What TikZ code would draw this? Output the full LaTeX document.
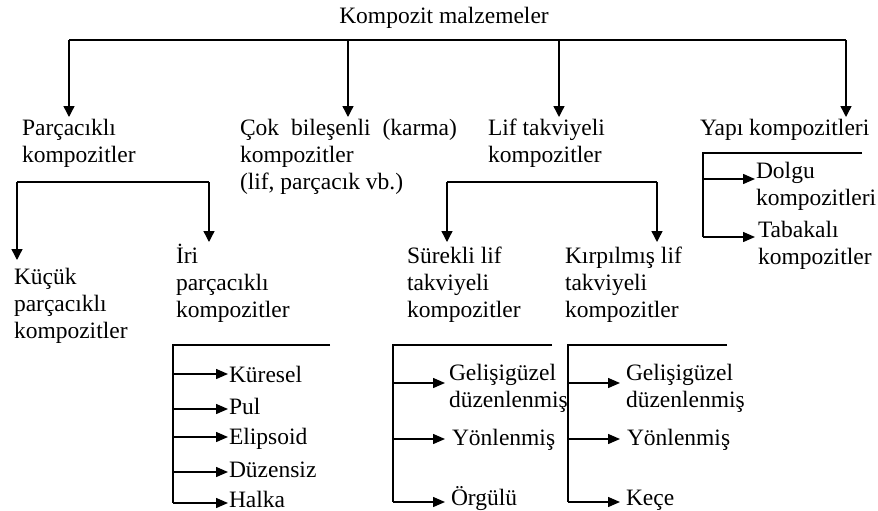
\documentclass[tikz,border=0pt]{standalone}
\usepackage{fontspec}
\setmainfont{Liberation Serif}
\usetikzlibrary{arrows.meta}
\tikzset{
  lbl/.style={inner sep=0pt, outer sep=0pt, anchor=base west, align=left, font=\fontsize{23.5}{27}\selectfont},
  conn/.style={line width=1.4pt, line join=miter},
  arr/.style={line width=1.4pt, -{Triangle[length=11pt,width=11pt]}},
  sarr/.style={line width=1.4pt, -{Triangle[length=12pt,width=10pt]}}
}
\begin{document}
\begin{tikzpicture}[x=1pt,y=-1pt]
\useasboundingbox (0,0) rectangle (878,511);
% root
\node[lbl, anchor=base] (root) at (444,24) {Kompozit malzemeler};
\coordinate (busL) at (69,40);
\coordinate (bus2) at (348,40);
\coordinate (bus3) at (559,40);
\coordinate (busR) at (846,40);
\coordinate (t1) at (69,117);
\coordinate (t2) at (348,117);
\coordinate (t3) at (559,117);
\coordinate (t4) at (846,117);
\draw[conn] (busL) -- (busR);
\draw[arr] (busL) -- (t1);
\draw[arr] (bus2) -- (t2);
\draw[arr] (bus3) -- (t3);
\draw[arr] (busR) -- (t4);
% level 2 (base anchor = baseline of the last line)
\node[lbl] (parc) at (22,162) {Parçacıklı\\kompozitler};
\node[lbl] (cok) at (240,189) {Çok\hspace{6pt} bileşenli\hspace{6pt} (karma)\\kompozitler\\(lif, parçacık vb.)};
\node[lbl] (lif) at (488,162) {Lif takviyeli\\kompozitler};
\node[lbl] (yapi) at (700,135) {Yapı kompozitleri};
% particle branch
\coordinate (pL) at (17,182);
\coordinate (pR) at (209,182);
\coordinate (pLt) at (17,260);
\coordinate (pRt) at (209,242);
\draw[conn] (pL) -- (pR);
\draw[arr] (pL) -- (pLt);
\draw[arr] (pR) -- (pRt);
\node[lbl] (kucuk) at (14,338) {Küçük\\parçacıklı\\kompozitler};
\node[lbl] (iri) at (176,317) {İri\\parçacıklı\\kompozitler};
% fibre branch
\coordinate (fL) at (447,182);
\coordinate (fR) at (657,182);
\coordinate (fLt) at (447,242);
\coordinate (fRt) at (657,242);
\draw[conn] (fL) -- (fR);
\draw[arr] (fL) -- (fLt);
\draw[arr] (fR) -- (fRt);
\node[lbl] (surekli) at (407,317) {Sürekli lif\\takviyeli\\kompozitler};
\node[lbl] (kirp) at (565,317) {Kırpılmış lif\\takviyeli\\kompozitler};
% structural branch
\coordinate (yR) at (862,153);
\coordinate (yC) at (703,153);
\coordinate (y1) at (703,179);
\coordinate (y2) at (703,237);
\coordinate (y1t) at (755,179);
\coordinate (y2t) at (755,237);
\draw[conn] (yR) -- (yC) -- (y2);
\draw[sarr] (y1) -- (y1t);
\draw[sarr] (y2) -- (y2t);
\node[lbl] (dolgu) at (756,205) {Dolgu\\kompozitleri};
\node[lbl] (tabak) at (758,264) {Tabakalı\\kompozitler};
% coarse particle list
\coordinate (aR) at (330,345);
\coordinate (aC) at (173,345);
\coordinate (a1) at (173,374);
\coordinate (a2) at (173,409);
\coordinate (a3) at (173,437);
\coordinate (a4) at (173,472);
\coordinate (a5) at (173,503);
\coordinate (a1t) at (228,374);
\coordinate (a2t) at (228,409);
\coordinate (a3t) at (228,437);
\coordinate (a4t) at (228,472);
\coordinate (a5t) at (228,503);
\draw[conn] (aR) -- (aC) -- (a5);
\draw[sarr] (a1) -- (a1t);
\draw[sarr] (a2) -- (a2t);
\draw[sarr] (a3) -- (a3t);
\draw[sarr] (a4) -- (a4t);
\draw[sarr] (a5) -- (a5t);
\node[lbl] (kuresel) at (229,382) {Küresel};
\node[lbl] (pul) at (229,414) {Pul};
\node[lbl] (elips) at (229,444) {Elipsoid};
\node[lbl] (duzensiz) at (229,477) {Düzensiz};
\node[lbl] (halka) at (229,507) {Halka};
% continuous fibre list
\coordinate (bR) at (552,345);
\coordinate (bC) at (393,345);
\coordinate (b1) at (393,383);
\coordinate (b2) at (393,439);
\coordinate (b3) at (393,502);
\coordinate (b1t) at (445,383);
\coordinate (b2t) at (445,439);
\coordinate (b3t) at (445,502);
\draw[conn] (bR) -- (bC) -- (b3);
\draw[sarr] (b1) -- (b1t);
\draw[sarr] (b2) -- (b2t);
\draw[sarr] (b3) -- (b3t);
\node[lbl] (bg) at (449,407) {Gelişigüzel\\düzenlenmiş};
\node[lbl] (by) at (452,445) {Yönlenmiş};
\node[lbl] (bo) at (451,505) {Örgülü};
% chopped fibre list
\coordinate (cR) at (727,345);
\coordinate (cC) at (568,345);
\coordinate (c1) at (568,383);
\coordinate (c2) at (568,439);
\coordinate (c3) at (568,502);
\coordinate (c1t) at (620,383);
\coordinate (c2t) at (620,439);
\coordinate (c3t) at (620,502);
\draw[conn] (cR) -- (cC) -- (c3);
\draw[sarr] (c1) -- (c1t);
\draw[sarr] (c2) -- (c2t);
\draw[sarr] (c3) -- (c3t);
\node[lbl] (cg) at (626,407) {Gelişigüzel\\düzenlenmiş};
\node[lbl] (cy) at (627,445) {Yönlenmiş};
\node[lbl] (ck) at (626,505) {Keçe};
\end{tikzpicture}
\end{document}
